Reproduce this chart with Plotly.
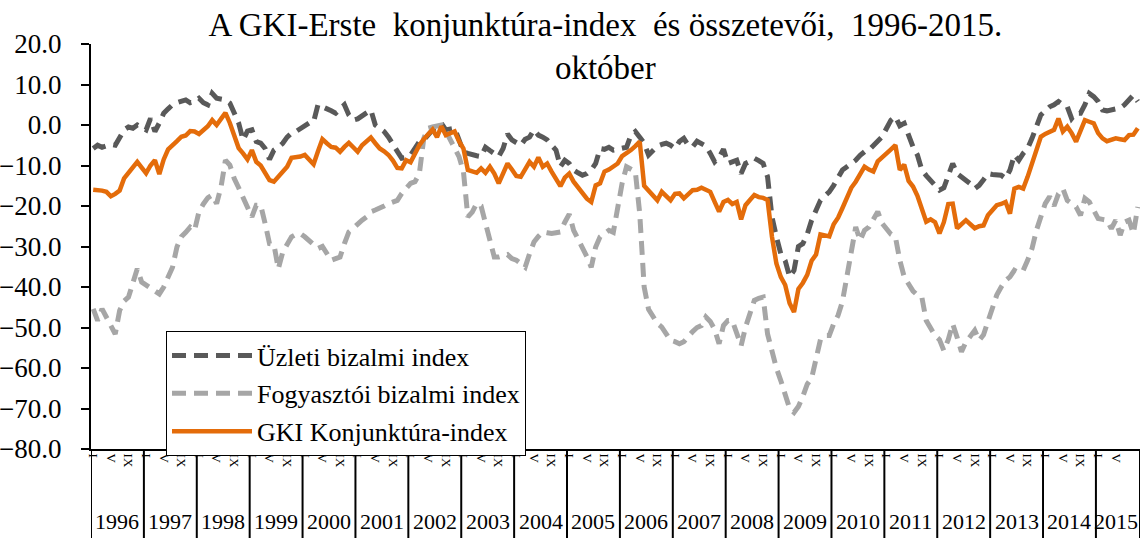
import plotly.graph_objects as go

years = list(range(1996, 2016))
month_labels = ["I", "V", "IX"]
month_label_pos = [0, 4, 8]

uzleti = [
    -5.8, -5.0, -5.5, -5.0, -4.8, -5.0, -3.0, -1.2, -0.5, -0.8, 0.0, -0.5,
    -1.2, 1.6, -1.6, 0.5, 2.9, 4.0, 5.0, 5.5, 6.0, 6.2, 5.5, 5.8,
    6.6, 5.5, 5.0, 7.8, 6.6, 6.5, 6.2, 5.4, 3.0, 0.5, -3.7, -1.5,
    -1.2, -4.1, -4.5, -5.8, -8.5, -6.2, -5.5, -4.5, -3.0, -2.0, -1.6, -0.8,
    0.0, 0.5, 0.8, 5.0, 4.5, 4.1, 3.5, 2.9, 4.0, 5.0, 2.5, 1.2,
    1.5, 2.1, 3.0, 3.7, 0.0, -0.8, -1.6, -3.0, -4.5, -6.5, -8.2, -8.0,
    -7.4, -5.5, -4.1, -3.7, -2.5, -1.2, -0.5, 0.4, -1.2, -1.0, -0.8, -3.7,
    -6.6, -7.0, -7.4, -7.6, -7.8, -5.5, -6.3, -7.0, -7.8, -5.8, -2.2, -3.7,
    -4.5, -5.0, -3.5, -3.0, -1.2, -2.5, -3.0, -3.7, -5.0, -6.2, -10.3, -8.7,
    -9.5, -11.1, -11.8, -12.4, -12.0, -11.1, -9.5, -5.8, -6.0, -5.5, -6.2, -6.0,
    -5.5, -5.5, -2.5, -1.6, -3.0, -4.5, -7.4, -6.5, -5.2, -4.8, -4.5, -5.0,
    -5.8, -4.1, -3.3, -5.0, -5.4, -4.0, -4.5, -5.2, -7.0, -9.1, -8.0, -6.0,
    -9.5, -9.1, -8.7, -12.0, -9.5, -9.0, -8.2, -8.8, -9.5, -12.8, -22.7, -27.6,
    -31.8, -33.5, -37.5, -35.9, -30.0, -29.3, -27.0, -23.5, -21.0, -18.6, -17.5, -16.5,
    -14.9, -13.0, -11.1, -10.3, -9.5, -8.7, -7.5, -6.6, -6.2, -5.0, -4.0, -2.9,
    -0.8, 1.2, 2.1, -0.2, 0.4, -2.9, -5.4, -7.4, -11.1, -12.5, -13.6, -14.9,
    -16.1, -15.5, -12.4, -9.5, -12.0, -12.8, -13.6, -14.5, -15.7, -14.9, -13.5, -12.0,
    -12.2, -12.4, -12.4, -13.2, -11.1, -7.4, -8.7, -7.0, -5.8, -3.3, 0.0, 2.5,
    3.5, 4.5, 5.0, 5.8, 5.0, 4.5, 1.6, 2.9, 2.9, 5.0, 7.8, 7.0,
    5.8, 3.7, 3.5, 3.7, 3.7, 4.2, 5.0, 6.0, 7.4, 5.8,
]

fogyasztoi = [
    -45.4, -48.3, -45.4, -47.5, -49.9, -51.6, -45.8, -43.5, -42.5, -38.4, -35.5, -38.8,
    -39.5, -40.4, -41.2, -41.7, -40.0, -37.5, -35.1, -30.1, -27.6, -26.5, -25.2, -26.0,
    -21.4, -19.5, -18.0, -17.3, -19.4, -15.3, -8.7, -9.9, -13.2, -15.5, -17.7, -20.5,
    -22.7, -19.8, -19.8, -24.3, -29.3, -29.5, -35.5, -31.4, -29.5, -27.6, -27.0, -26.8,
    -27.6, -28.5, -29.5, -30.5, -30.0, -32.0, -33.4, -33.0, -32.6, -29.3, -26.4, -25.5,
    -24.3, -23.5, -22.7, -21.4, -21.0, -20.6, -20.0, -19.4, -19.0, -18.6, -16.9, -15.5,
    -14.4, -14.0, -12.0, -3.3, -0.8, -0.5, -0.2, 0.0, -1.5, -3.7, -6.0, -7.8,
    -11.5, -22.7, -21.5, -19.4, -20.0, -24.3, -27.6, -32.6, -32.6, -32.4, -32.0, -33.0,
    -33.4, -34.2, -35.1, -31.8, -28.9, -27.5, -26.4, -26.6, -26.8, -26.6, -26.4, -24.0,
    -22.0, -26.0, -28.0, -30.1, -32.5, -35.1, -30.1, -27.6, -26.8, -26.0, -26.5, -20.2,
    -14.4, -10.3, -11.0, -11.5, -21.9, -40.0, -45.5, -47.4, -49.0, -49.9, -51.5, -53.2,
    -53.5, -54.0, -53.5, -52.0, -51.0, -50.0, -49.5, -47.4, -48.5, -50.5, -54.0, -49.5,
    -48.3, -48.3, -51.6, -54.5, -49.9, -46.6, -43.3, -42.8, -42.5, -51.6, -56.5, -60.0,
    -63.1, -66.5, -70.0, -71.0, -69.5, -67.0, -64.0, -62.5, -58.0, -53.0, -52.0, -52.0,
    -49.1, -47.0, -43.5, -37.0, -31.5, -25.2, -28.5, -26.0, -25.2, -23.5, -21.4, -24.3,
    -25.5, -27.0, -27.6, -33.4, -37.5, -39.5, -41.0, -42.0, -42.5, -48.3, -49.9, -52.0,
    -53.0, -55.7, -53.0, -49.1, -52.4, -56.0, -53.6, -52.0, -50.7, -53.2, -51.8, -48.5,
    -45.0, -42.0, -40.0, -38.4, -37.5, -35.9, -36.5, -35.9, -33.4, -30.5, -26.0, -23.1,
    -19.4, -17.7, -20.0, -17.0, -15.7, -18.6, -19.5, -20.2, -22.3, -18.1, -19.0, -21.0,
    -23.1, -23.3, -23.5, -25.6, -23.5, -27.2, -24.0, -23.5, -26.8, -20.2,
]

gki = [
    -16.0, -16.0, -16.2, -16.5, -17.6, -17.0, -16.2, -13.2, -11.9, -10.6, -9.1, -10.5,
    -11.9, -10.0, -8.7, -12.1, -8.5, -6.0, -4.8, -4.0, -2.9, -2.6, -1.5, -1.6,
    -2.2, -1.3, -0.3, 1.2, 0.0, 1.5, 3.0, 0.5, -3.0, -5.7, -7.0, -8.5,
    -6.2, -9.1, -10.0, -12.0, -13.6, -14.0, -12.8, -11.5, -10.3, -8.1, -8.0, -7.8,
    -7.4, -8.5, -9.7, -6.5, -3.5, -4.5, -5.4, -5.6, -6.6, -5.4, -4.4, -5.5,
    -6.6, -5.0, -4.0, -3.1, -4.5, -5.8, -6.5, -7.4, -8.8, -10.6, -10.7, -8.7,
    -9.2, -7.0, -5.0, -3.5, -2.1, -1.1, -3.0, -0.3, -2.5, -2.0, -1.6, -4.0,
    -5.8, -11.1, -11.5, -11.8, -10.7, -11.8, -10.3, -12.0, -14.4, -12.0, -9.5, -11.0,
    -12.6, -12.8, -11.0, -9.1, -10.3, -8.0, -10.3, -9.5, -11.5, -13.5, -15.1, -13.0,
    -12.0, -14.0, -15.5, -17.0, -18.2, -19.0, -14.9, -14.4, -11.5, -11.0, -10.3, -9.5,
    -7.7, -7.0, -6.2, -5.2, -4.1, -15.0, -16.1, -17.5, -18.6, -16.5, -17.5, -18.6,
    -17.0, -16.9, -18.1, -17.0, -16.1, -16.0, -15.5, -16.0, -16.5, -19.0, -21.4, -19.0,
    -18.5, -19.5, -19.0, -23.3, -19.8, -18.5, -17.3, -17.8, -18.0, -18.5, -27.6, -34.2,
    -37.5, -39.5, -44.0, -46.2, -40.5, -39.0, -37.0, -33.5, -32.0, -27.0, -27.2, -27.5,
    -24.5, -22.9, -20.5, -18.2, -15.5, -14.0, -12.0, -10.3, -11.0, -11.5, -9.0, -7.8,
    -7.0, -6.0, -5.0, -11.1, -9.8, -13.8, -15.2, -17.5, -21.0, -23.9, -23.3, -24.0,
    -26.8, -24.0, -19.5, -19.4, -25.5, -24.5, -23.5, -24.5, -25.5, -25.0, -24.8, -22.3,
    -21.0, -19.8, -19.5, -19.0, -21.9, -15.7, -15.3, -15.7, -12.8, -9.5, -5.5, -2.9,
    -2.2, -1.6, -1.2, 1.6, -1.6, -0.4, -2.0, -4.1, -1.5, 1.2, 0.8, 0.4,
    -2.0, -3.3, -4.0, -3.5, -3.3, -3.5, -3.7, -2.5, -2.4, -0.8,
]

series_names = ["Üzleti bizalmi index", "Fogyasztói bizalmi index", "GKI Konjunktúra-index"]
n = len(gki)
x = list(range(n))

FONT = "Liberation Serif, Palatino Linotype, Book Antiqua, serif"

fig = go.Figure()
fig.add_trace(go.Scatter(x=x, y=uzleti, mode="lines", name=series_names[0], legendgroup="a",
                         line=dict(color="#595959", width=5, dash="14px,8px")))
fig.add_trace(go.Scatter(x=x, y=fogyasztoi, mode="lines", name=series_names[1], legendgroup="b",
                         line=dict(color="#A6A6A6", width=5, dash="14px,8px")))
fig.add_trace(go.Scatter(x=x, y=gki, mode="lines", name=series_names[2], legendgroup="c",
                         line=dict(color="#E46C0A", width=4.5)))

# month tick labels (rotated, Excel style)
tickvals, ticktext = [], []
for i, yr in enumerate(years):
    for p, lab in zip(month_label_pos, month_labels):
        m = i * 12 + p
        if m < n:
            tickvals.append(m)
            ticktext.append(lab)

# year dividers and year labels
shapes = []
annotations = []
for i, yr in enumerate(years):
    start = i * 12 - 0.5
    end = min(i * 12 + 12, n) - 0.5
    shapes.append(dict(type="line", xref="x", yref="paper", x0=start, x1=start, y0=0, y1=-0.22,
                       line=dict(color="black", width=2)))
    last = (i == len(years) - 1)
    annotations.append(dict(x=end if last else (start + end) / 2, y=-0.18, xref="x", yref="paper",
                            text=str(yr), showarrow=False,
                            font=dict(family=FONT, size=22, color="black"),
                            yanchor="middle", xanchor="right" if last else "center"))
shapes.append(dict(type="line", xref="x", yref="paper", x0=n - 0.5, x1=n - 0.5, y0=0, y1=-0.22,
                   line=dict(color="black", width=2)))

fig.update_layout(
    width=1140, height=538,
    margin=dict(l=91, r=0, t=44, b=89),
    paper_bgcolor="white", plot_bgcolor="white",
    font=dict(family=FONT, size=20, color="black"),
    title=dict(text="A GKI-Erste\u00a0 konjunktúra-index\u00a0 és összetevői,\u00a0 1996-2015.<br>október",
               x=0.531, xanchor="center", yref="container", y=1 - 36 / 538, yanchor="top",
               font=dict(family=FONT, size=33, color="black")),
    xaxis=dict(range=[-0.5, n - 0.5], showgrid=False, zeroline=False, showline=True,
               linecolor="black", linewidth=2, tickvals=tickvals, ticktext=ticktext,
               tickangle=90, tickfont=dict(family=FONT, size=13), ticks="", automargin=False),
    yaxis=dict(range=[-80, 20], dtick=10, tickformat=".1f", showgrid=False, zeroline=False,
               showline=True, linecolor="black", linewidth=2, ticks="outside", ticklen=8,
               tickwidth=2, tickcolor="black", tickfont=dict(family=FONT, size=27),
               ticklabelstandoff=14, automargin=False),
    shapes=shapes,
    annotations=annotations,
    legend=dict(x=0.0715, y=0.291, xanchor="left", yanchor="top", bgcolor="white",
                bordercolor="black", borderwidth=1, font=dict(family=FONT, size=26),
                traceorder="grouped", tracegroupgap=1, itemwidth=80),
    showlegend=True,
)

fig.write_html("out.html",
               config={"displayModeBar": False},
               post_script="document.body.style.margin='0';document.body.style.padding='0';"
                           "document.body.style.overflow='hidden';")
